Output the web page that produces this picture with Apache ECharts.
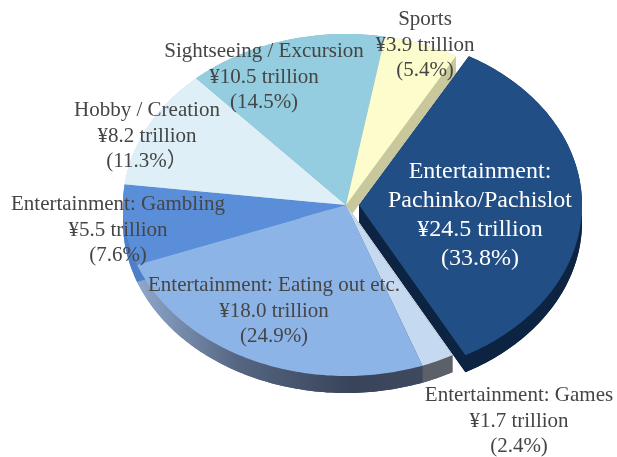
<!DOCTYPE html>
<html>
<head>
<meta charset="utf-8">
<style>
html, body { margin: 0; padding: 0; background: #fff; }
#main { width: 617px; height: 457px; }
</style>
<script src="https://cdn.jsdelivr.net/npm/echarts@6/dist/echarts.min.js"></script>
</head>
<body>
<div id="main"></div>
<script>
var names = ['Entertainment:\nPachinko/Pachislot', 'Entertainment: Games', 'Entertainment: Eating out etc.',
    'Entertainment: Gambling', 'Hobby / Creation', 'Sightseeing / Excursion', 'Sports'];
var values = [24.5, 1.7, 18.0, 5.5, 8.2, 10.5, 3.9];
var valueLabels = ['¥24.5 trillion', '¥1.7 trillion', '¥18.0 trillion', '¥5.5 trillion', '¥8.2 trillion', '¥10.5 trillion', '¥3.9 trillion'];
var percentLabels = ['(33.8%)', '(2.4%)', '(24.9%)', '(7.6%)', '(11.3%）', '(14.5%)', '(5.4%)'];

var topColors = ['#214e84', '#c5d9f1', '#8db4e7', '#5b8ed8', '#deeff7', '#93cddf', '#fdfccc'];
var wallColors = [
    '#0c2342',
    '#5b6069',
    { type: 'linear', x: 0, y: 0, x2: 1, y2: 0, colorStops: [
        { offset: 0, color: '#8fa8cc' }, { offset: 0.35, color: '#566682' },
        { offset: 0.75, color: '#38445a' }, { offset: 1, color: '#3f495e' }] },
    '#4f7fc6',
    '#c5d5dc',
    '#7eb0c0',
    '#c9c89c'
];

// layout of the tilted pie
var cx = 346, cy = 205, rx = 223, ry = 171, depth = 17;
var explodeX = 13;
var startAngle = 29.5;
// centres of the text blocks
var labelAt = [[480, 215], [519, 421], [274, 311], [118, 230], [147, 136], [264, 77], [425, 45]];

var total = values.reduce(function (a, b) { return a + b; }, 0);
var angles = [];
values.reduce(function (acc, v) {
    var span = v / total * 360;
    angles.push([acc, acc + span]);
    return acc + span;
}, startAngle);

function arcPoints(i, dy) {
    var ox = i === 0 ? explodeX : 0;
    var pts = [];
    var a0 = angles[i][0], a1 = angles[i][1];
    var n = Math.ceil(a1 - a0);
    for (var k = 0; k <= n; k++) {
        var a = (a0 + (a1 - a0) * k / n) * Math.PI / 180;
        pts.push([cx + ox + rx * Math.sin(a), cy + dy - ry * Math.cos(a)]);
    }
    return pts;
}

function apex(i, dy) {
    return [cx + (i === 0 ? explodeX : 0), cy + dy];
}

var myChart = echarts.init(document.getElementById('main'));

myChart.setOption({
    animation: false,
    backgroundColor: '#ffffff',
    series: [
        {
            // side walls under the top faces
            type: 'custom',
            coordinateSystem: 'none',
            silent: true,
            data: values,
            renderItem: function (params) {
                var i = params.dataIndex;
                var top = arcPoints(i, 0), low = arcPoints(i, depth);
                var fill = { fill: wallColors[i] };
                return {
                    type: 'group',
                    children: [
                        { type: 'polygon', shape: { points: [apex(i, depth)].concat(low) }, style: fill },
                        { type: 'polygon', shape: { points: top.concat(low.slice().reverse()) }, style: fill },
                        { type: 'polygon', shape: { points: [apex(i, 0), top[0], low[0], apex(i, depth)] }, style: fill },
                        { type: 'polygon', shape: { points: [apex(i, 0), top[top.length - 1], low[low.length - 1], apex(i, depth)] }, style: fill }
                    ]
                };
            }
        },
        {
            // top faces, the exploded slice goes last
            type: 'custom',
            coordinateSystem: 'none',
            silent: true,
            data: values,
            renderItem: function (params) {
                var i = params.dataIndex;
                return {
                    type: 'polygon',
                    z2: i === 0 ? 10 : 1,
                    shape: { points: [apex(i, 0)].concat(arcPoints(i, 0)) },
                    style: { fill: topColors[i] }
                };
            }
        },
        {
            type: 'custom',
            coordinateSystem: 'none',
            silent: true,
            z: 5,
            data: values,
            renderItem: function (params) {
                var i = params.dataIndex;
                return {
                    type: 'text',
                    style: {
                        text: [names[i], valueLabels[i], percentLabels[i]].join('\n'),
                        x: labelAt[i][0],
                        y: labelAt[i][1],
                        align: 'center',
                        verticalAlign: 'middle',
                        fill: i === 0 ? '#ffffff' : '#454545',
                        fontFamily: '"Liberation Serif", "Noto Sans CJK JP", serif',
                        fontSize: i === 0 ? 24 : 21,
                        lineHeight: i === 0 ? 29 : 25.7
                    }
                };
            }
        }
    ]
});

window.addEventListener('resize', function () {
    myChart.resize();
});
</script>
</body>
</html>
